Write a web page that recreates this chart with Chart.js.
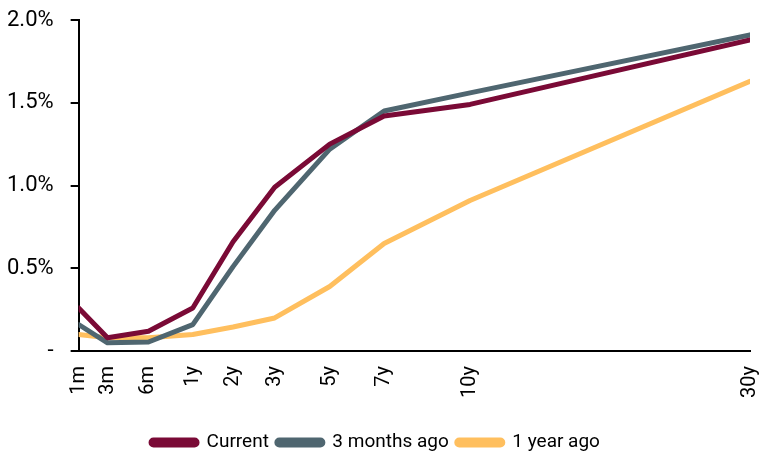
<!DOCTYPE html>
<html>
<head>
<meta charset="utf-8">
<script src="https://cdn.jsdelivr.net/npm/chart.js@4/dist/chart.umd.min.js"></script>
<style>
  html, body { margin: 0; padding: 0; background: #fff; }
  #wrap { width: 761px; height: 456px; }
</style>
</head>
<body>
<div id="wrap"><canvas id="curve"></canvas></div>
<script>
// tenors and where they sit on the (non-uniform) x axis, 0..100
var tenors = ['1m', '3m', '6m', '1y', '2y', '3y', '5y', '7y', '10y', '30y'];
var tenorPos = [0, 4.3, 10.4, 17, 23, 29.2, 37.4, 45.5, 58.3, 100];

// yields in %
var current = [0.26, 0.08, 0.12, 0.26, 0.66, 0.99, 1.25, 1.42, 1.49, 1.88];
var threeMonthsAgo = [0.16, 0.05, 0.055, 0.16, 0.51, 0.85, 1.22, 1.45, 1.56, 1.91];
var oneYearAgo = [0.10, 0.08, 0.08, 0.10, 0.145, 0.20, 0.39, 0.65, 0.91, 1.63];

var yTicks = [0, 0.5, 1.0, 1.5, 2.0];

var FONT = "Roboto, 'Liberation Sans Narrow', sans-serif";

function points(values) {
  return values.map(function (v, i) { return { x: tenorPos[i], y: v }; });
}

function series(label, values, color) {
  return {
    label: label,
    data: points(values),
    borderColor: color,
    backgroundColor: color,
    borderWidth: 5,
    borderCapStyle: 'round',
    borderJoinStyle: 'round',
    pointRadius: 0,
    tension: 0
  };
}

var yieldChart = new Chart(document.getElementById('curve'), {
  type: 'line',
  data: {
    datasets: [
      series('Current', current, '#7a0a36'),
      series('3 months ago', threeMonthsAgo, '#4f6670'),
      series('1 year ago', oneYearAgo, '#ffbf5e')
    ]
  },
  options: {
    responsive: true,
    maintainAspectRatio: false,
    animation: false,
    layout: { padding: { left: -10, right: 0, top: 0, bottom: -6 } },
    plugins: {
      tooltip: { enabled: false },
      legend: {
        position: 'bottom',
        labels: {
          color: '#000',
          font: { family: FONT, size: 19 },
          boxWidth: 46,
          boxHeight: 5,
          padding: 8,
          useBorderRadius: true,
          borderRadius: 2.5
        }
      }
    },
    scales: {
      x: {
        type: 'linear',
        min: 0,
        max: 100,
        afterBuildTicks: function (axis) {
          axis.ticks = tenorPos.map(function (p) { return { value: p }; });
        },
        afterFit: function (axis) {
          axis.paddingRight = 11;
          axis.height += 20;
        },
        ticks: {
          color: '#000',
          font: { family: FONT, size: 20 },
          minRotation: 90,
          maxRotation: 90,
          autoSkip: false,
          padding: 7,
          callback: function (value) {
            var i = tenorPos.indexOf(value);
            return i >= 0 ? tenors[i] : '';
          }
        },
        grid: { display: false },
        border: { display: true, color: '#000', width: 2 }
      },
      y: {
        min: 0,
        max: 2,
        afterBuildTicks: function (axis) {
          axis.ticks = yTicks.map(function (v) { return { value: v }; });
        },
        afterFit: function (axis) {
          axis.paddingTop = 20;
          axis.paddingBottom = 0;
        },
        ticks: {
          color: '#000',
          font: { family: FONT, size: 22 },
          padding: 17,
          callback: function (value) {
            return value === 0 ? '-' : value.toFixed(1) + '%';
          }
        },
        grid: {
          drawOnChartArea: false,
          drawTicks: true,
          tickLength: 8,
          color: '#000',
          lineWidth: 2
        },
        border: { display: true, color: '#000', width: 2 }
      }
    }
  }
});
</script>
</body>
</html>
